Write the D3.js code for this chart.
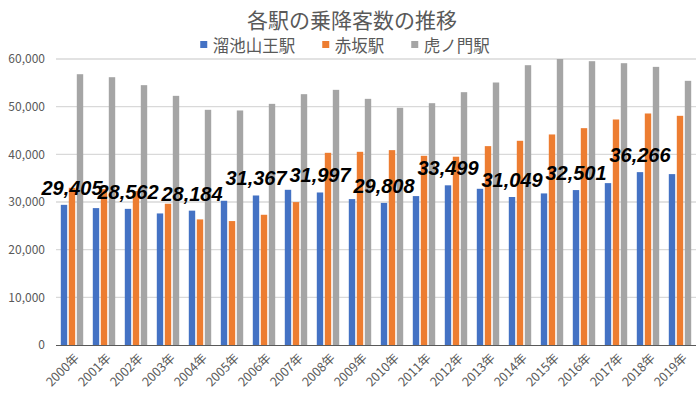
<!DOCTYPE html>
<html>
<head>
<meta charset="utf-8">
<script src="https://cdn.jsdelivr.net/npm/d3@7"></script>
<style>
  body { margin: 0; background: #fff; }
  svg { display: block; }
</style>
</head>
<body>
<svg id="chart" width="700" height="394"></svg>
<script>
// -- Data --
const years = ["2000年","2001年","2002年","2003年","2004年","2005年","2006年","2007年","2008年","2009年",
               "2010年","2011年","2012年","2013年","2014年","2015年","2016年","2017年","2018年","2019年"];
const seriesNames = ["溜池山王駅", "赤坂駅", "虎ノ門駅"];
const tameike = [29405, 28720, 28562, 27600, 28184, 30260, 31367, 32560, 31997, 30610,
                 29808, 31240, 33499, 32770, 31049, 31800, 32501, 33960, 36266, 35850];
const akasaka = [32980, 32700, 32290, 29630, 26350, 26000, 27320, 29980, 40320, 40530,
                 40880, 39690, 39500, 41720, 42840, 44170, 45490, 47310, 48570, 48080];
const toranomon = [56810, 56180, 54510, 52270, 49340, 49200, 50590, 52620, 53530, 51640,
                   49760, 50730, 53040, 55070, 58700, 60000, 59540, 59120, 58350, 55420];
const yTicks = [0, 10000, 20000, 30000, 40000, 50000, 60000];
// labelled years (blue series values shown)
const labelYears = ["2000年","2002年","2004年","2006年","2008年","2010年","2012年","2014年","2016年","2018年"];

const colors = ["#4472C4", "#ED7D31", "#A5A5A5"];
const allSeries = [tameike, akasaka, toranomon];

const svg = d3.select("#chart");
const font = "'Noto Sans CJK JP', 'Noto Sans', sans-serif";

const margin = { top: 59, right: 4, bottom: 49, left: 56 };
const width = 700, height = 394;

const x = d3.scaleBand().domain(years).range([margin.left, width - margin.right]).padding(0);
const barStep = 8;
const barW = 6.4;
const groupW = barStep * 2 + barW;
const groupOffset = (x.bandwidth() - groupW) / 2;

const y = d3.scaleLinear().domain([0, 60000]).range([height - margin.bottom, margin.top]);

// -- Gridlines --
svg.append("g")
  .selectAll("line")
  .data(yTicks.filter(d => d > 0))
  .join("line")
  .attr("x1", margin.left)
  .attr("x2", width - margin.right)
  .attr("y1", d => y(d))
  .attr("y2", d => y(d))
  .attr("stroke", "#D9D9D9")
  .attr("stroke-width", 1.3);

// -- Y axis labels --
const yAxis = d3.axisLeft(y).tickValues(yTicks).tickSize(0).tickPadding(11).tickFormat(d3.format(","));
svg.append("g")
  .attr("transform", `translate(${margin.left},0)`)
  .call(yAxis)
  .call(g => g.select(".domain").remove())
  .selectAll("text")
  .attr("fill", "#595959")
  .style("font-family", font)
  .style("font-size", "12px");

// -- Bars --
const groups = svg.append("g")
  .selectAll("g")
  .data(years)
  .join("g")
  .attr("transform", d => `translate(${x(d) + groupOffset},0)`);

groups.selectAll("rect")
  .data((d, i) => allSeries.map((s, k) => ({ k, v: s[i] })))
  .join("rect")
  .attr("x", d => d.k * barStep)
  .attr("width", barW)
  .attr("y", d => y(d.v))
  .attr("height", d => y(0) - y(d.v))
  .attr("fill", d => colors[d.k]);

// -- X axis --
svg.append("line")
  .attr("x1", margin.left)
  .attr("x2", width - margin.right)
  .attr("y1", y(0) + 0.5)
  .attr("y2", y(0) + 0.5)
  .attr("stroke", "#595959")
  .attr("stroke-width", 1.2);

svg.append("g")
  .selectAll("text")
  .data(years)
  .join("text")
  .attr("transform", d => `translate(${x(d) + x.bandwidth() / 2 + 4},${y(0) + 10}) rotate(-45)`)
  .attr("text-anchor", "end")
  .attr("dominant-baseline", "central")
  .attr("fill", "#595959")
  .style("font-family", font)
  .style("font-size", "12.5px")
  .text(d => d);

// -- Data labels (blue series, even years) --
svg.append("g")
  .selectAll("text")
  .data(labelYears)
  .join("text")
  .attr("x", d => Math.max(x(d) + groupOffset + barW / 2, 72))
  .attr("y", d => y(tameike[years.indexOf(d)]) - 10)
  .attr("text-anchor", "middle")
  .attr("fill", "#000")
  .style("font-family", "'Liberation Sans', Arial, sans-serif")
  .style("font-weight", "bold")
  .style("font-style", "italic")
  .style("font-size", "20px")
  .text(d => d3.format(",")(tameike[years.indexOf(d)]));

// -- Title --
svg.append("text")
  .attr("x", 352)
  .attr("y", 19)
  .attr("text-anchor", "middle")
  .attr("dominant-baseline", "central")
  .attr("fill", "#595959")
  .style("font-family", font)
  .style("font-size", "21px")
  .text("各駅の乗降客数の推移");

// -- Legend --
const legend = svg.append("g");
let lx = 0;
seriesNames.forEach((name, i) => {
  const item = legend.append("g").attr("transform", `translate(${lx},0)`);
  item.append("rect")
    .attr("x", 0).attr("y", -3.5)
    .attr("width", 7).attr("height", 7)
    .attr("fill", colors[i]);
  const t = item.append("text")
    .attr("x", 12.5)
    .attr("y", 0)
    .attr("dominant-baseline", "central")
    .attr("fill", "#595959")
    .style("font-family", font)
    .style("font-size", "16.5px")
    .text(name);
  lx += 12.5 + t.node().getComputedTextLength() + 27;
});
const legendW = lx - 27;
legend.attr("transform", `translate(${345 - legendW / 2},44.5)`);
</script>
</body>
</html>
